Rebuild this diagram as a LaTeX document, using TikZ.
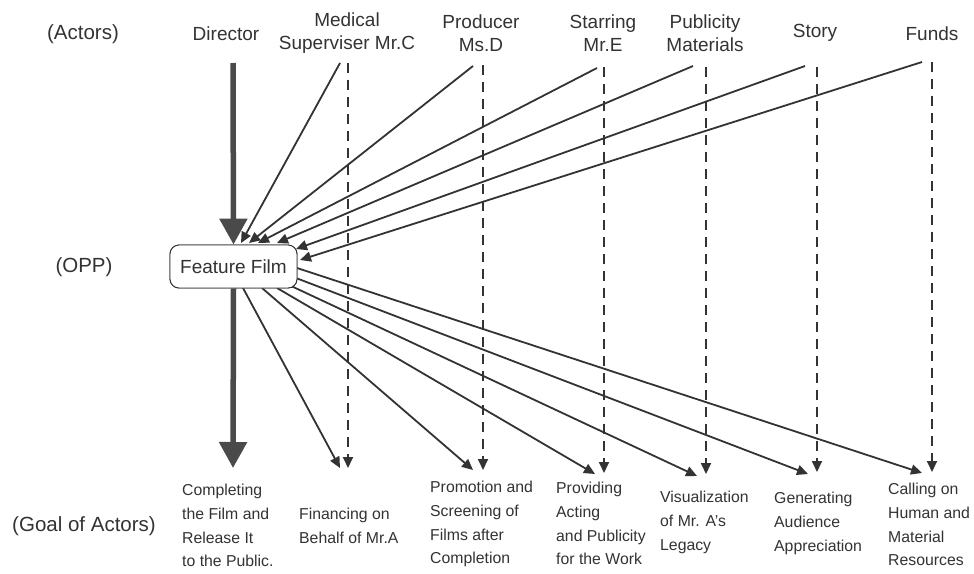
\documentclass[tikz,border=0pt]{standalone}
\usepackage{fontspec}
\setmainfont{Liberation Sans}
\usetikzlibrary{arrows.meta}
\definecolor{ink}{HTML}{333333}
\definecolor{heavy}{HTML}{4A4A4A}
\begin{document}
\begin{tikzpicture}[x=1pt,y=-1pt,
 lab/.style={font=\fontsize{19}{23}\selectfont, align=center, inner sep=0pt, text=ink},
 side/.style={font=\fontsize{20.5}{24}\selectfont, inner sep=0pt, text=ink},
 goal/.style={font=\fontsize{15.8}{23.7}\selectfont, align=left, anchor=north west, inner sep=0pt, text=ink},
 solidarr/.style={draw=ink, line width=1.8pt, -{Triangle[length=11pt,width=10pt]}},
 dasharr/.style={draw=ink, line width=1.8pt, dash pattern=on 10pt off 7pt, -{Triangle[length=11pt,width=10pt]}},
 bigarr/.style={draw=heavy, line width=5.5pt, -{Triangle[length=26pt,width=27pt]}},
 filmbox/.style={draw=ink, line width=0.9pt, rounded corners=9pt, minimum width=127pt, minimum height=43pt, font=\fontsize{19}{23}\selectfont, fill=white, inner sep=0pt, text=ink}
]
\useasboundingbox (0,0) rectangle (974,573);
\fill[white] (0,0) rectangle (974,573);

% side labels
\node[side] (lactors) at (83,34) {(Actors)};
\node[side] (lopp) at (84,267) {(OPP)};
\node[side] (lgoal) at (84,526) {(Goal of Actors)};

% actors
\node[lab] (director) at (226,34) {Director};
\node[lab] (medical) at (347,33) {Medical\\Superviser Mr.C};
\node[lab] (producer) at (481,33) {Producer\\Ms.D};
\node[lab] (starring) at (603,33) {Starring\\Mr.E};
\node[lab] (publicity) at (705,33) {Publicity\\Materials};
\node[lab] (story) at (815,33) {Story};
\node[lab] (funds) at (932,34) {Funds};

% OPP
\node[filmbox] (ff) at (233.5,266.5) {Feature Film};

% goals
\node[goal] (g1) at (182,484) {Completing\\the Film and\\Release It\\to the Public.};
\node[goal] (g2) at (299,508) {Financing on\\Behalf of Mr.A};
\node[goal] (g3) at (430,481) {Promotion and\\Screening of\\Films after\\Completion};
\node[goal] (g4) at (556,482) {Providing\\Acting\\and Publicity\\for the Work};
\node[goal] (g5) at (660,491) {Visualization\\of Mr. A's\\Legacy};
\node[goal] (g6) at (774,492) {Generating\\Audience\\Appreciation};
\node[goal] (g7) at (888,483) {Calling on\\Human and\\Material\\Resources};

% line ends
\coordinate (dtop) at (233,63);
\coordinate (dbot) at (233,468);
\coordinate (ms) at (340,63);  \coordinate (mt) at (241,243);
\coordinate (ps) at (473,66);  \coordinate (pt) at (249,243);
\coordinate (ss) at (597,68);  \coordinate (st) at (258,243);
\coordinate (pbs) at (693,66); \coordinate (pbt) at (277,243);
\coordinate (sts) at (805,66); \coordinate (stt) at (296,249);
\coordinate (fs) at (922,62);  \coordinate (ft) at (300,260);

\coordinate (dm) at (348,63);  \coordinate (dme) at (348,468);
\coordinate (dp) at (483,65);  \coordinate (dpe) at (483,470);
\coordinate (dsr) at (604,67); \coordinate (dsre) at (604,473);
\coordinate (dpb) at (706,67); \coordinate (dpbe) at (706,474);
\coordinate (dst) at (817,67); \coordinate (dste) at (817,472);
\coordinate (dfu) at (932,62); \coordinate (dfue) at (932,472);

\coordinate (o1) at (243,288); \coordinate (e1) at (340,468);
\coordinate (o2) at (262,288); \coordinate (e2) at (473,470);
\coordinate (o3) at (277,288); \coordinate (e3) at (595,474);
\coordinate (o4) at (289,285); \coordinate (e4) at (697,476);
\coordinate (o5) at (296,278); \coordinate (e5) at (808,474);
\coordinate (o6) at (297,268); \coordinate (e6) at (922,473);

% dashed
\draw[dasharr] (dm) -- (dme);
\draw[dasharr] (dp) -- (dpe);
\draw[dasharr] (dsr) -- (dsre);
\draw[dasharr] (dpb) -- (dpbe);
\draw[dasharr] (dst) -- (dste);
\draw[dasharr] (dfu) -- (dfue);

% incoming
\draw[solidarr] (ms) -- (mt);
\draw[solidarr] (ps) -- (pt);
\draw[solidarr] (ss) -- (st);
\draw[solidarr] (pbs) -- (pbt);
\draw[solidarr] (sts) -- (stt);
\draw[solidarr] (fs) -- (ft);

% outgoing
\draw[solidarr] (o1) -- (e1);
\draw[solidarr] (o2) -- (e2);
\draw[solidarr] (o3) -- (e3);
\draw[solidarr] (o4) -- (e4);
\draw[solidarr] (o5) -- (e5);
\draw[solidarr] (o6) -- (e6);

% heavy
\draw[bigarr] (dtop) -- (ff.north);
\draw[bigarr] (ff.south) -- (dbot);

\node[filmbox] at (ff) {Feature Film};
\end{tikzpicture}
\end{document}
